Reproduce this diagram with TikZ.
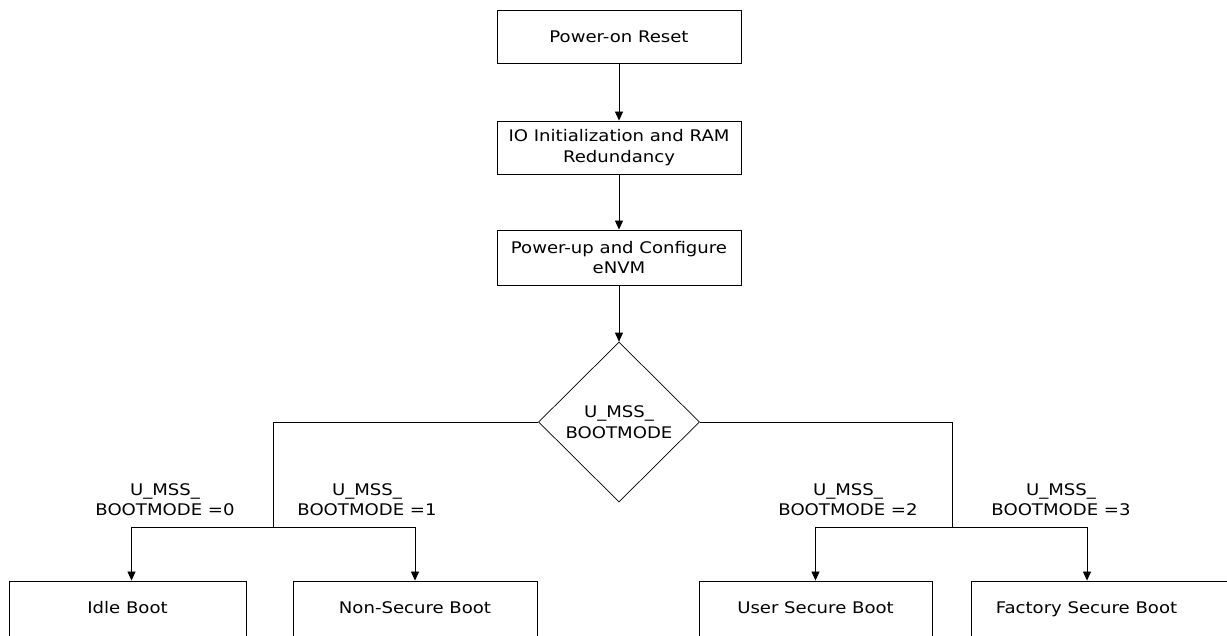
\documentclass[tikz,border=0pt]{standalone}
\usepackage{fontspec}
\setmainfont{DejaVu Sans}[FakeStretch=1.13]
\usetikzlibrary{shapes.geometric,arrows.meta}
\begin{document}
\begin{tikzpicture}[x=1pt,y=-1pt,
  txt/.style={font=\fontsize{16}{20.5}\selectfont},
  box/.style={txt,draw,line width=0.9pt,inner sep=2pt,align=center,minimum height=53pt},
  bbox/.style={box,minimum height=56pt,text height=12pt,text depth=4pt},
  dec/.style={txt,draw,line width=0.7pt,shape=diamond,aspect=1,inner sep=0pt,minimum width=161pt,minimum height=160pt,align=center},
  lbl/.style={txt,align=center,inner sep=0pt},
  conn/.style={line width=0.8pt},
  arr/.style={conn,-{Triangle[width=8pt,length=9pt]}}]
\useasboundingbox (0,0) rectangle (1227,635);
\fill[white] (0,0) rectangle (1227,635);
\node[box,minimum width=244pt] (por) at (619,36.5) {Power-on Reset};
\node[box,minimum width=244pt] (io) at (619,147.5) {IO Initialization and RAM\\Redundancy};
\node[box,minimum width=244pt,minimum height=55pt] (pu) at (619,257.5) {Power-up and Configure\\eNVM};
\node[dec] (d) at (619,422) {U\_MSS\_\\BOOTMODE};
\node[bbox,minimum width=237pt] (idle) at (127.5,609) {Idle Boot};
\node[bbox,minimum width=244pt] (ns) at (415,609) {Non-Secure Boot};
\node[bbox,minimum width=233pt] (us) at (815.5,609) {User Secure Boot};
\node[bbox,minimum width=262pt] (fs) at (1102,609) {Factory Secure Boot\hspace{31pt}};
\coordinate (jl) at (273,527);
\coordinate (jr) at (952,527);
\draw[arr] (por) -- (io);
\draw[arr] (io) -- (pu);
\draw[arr] (pu) -- (d.north);
\draw[conn] (d.west) -| (jl);
\draw[conn] (d.east) -| (jr);
\draw[arr] (jl) -| ([xshift=4pt]idle.north);
\draw[arr] (jl) -| (ns.north);
\draw[arr] (jr) -| (us.north);
\draw[arr] (jr) -| ([xshift=-15pt]fs.north);
\node[lbl] (l0) at (165,499.5) {U\_MSS\_\\BOOTMODE =0};
\node[lbl] (l1) at (367,499.5) {U\_MSS\_\\BOOTMODE =1};
\node[lbl] (l2) at (848,499.5) {U\_MSS\_\\BOOTMODE =2};
\node[lbl] (l3) at (1061,499.5) {U\_MSS\_\\BOOTMODE =3};
\end{tikzpicture}
\end{document}
